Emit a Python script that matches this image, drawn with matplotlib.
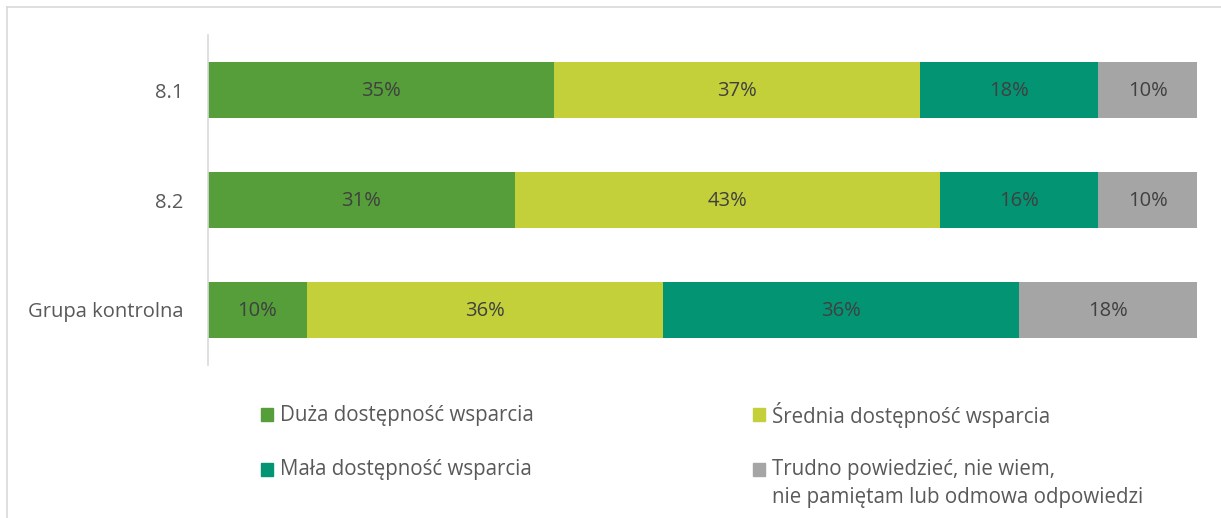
import matplotlib
matplotlib.use("Agg")
import matplotlib.pyplot as plt
from matplotlib.patches import Rectangle
from matplotlib.lines import Line2D

plt.rcParams['font.family'] = ['Open Sans', 'DejaVu Sans']

categories = ["8.1", "8.2", "Grupa kontrolna"]
series_names = ["Duża dostępność wsparcia", "Średnia dostępność wsparcia",
                "Mała dostępność wsparcia",
                "Trudno powiedzieć, nie wiem,\nnie pamiętam lub odmowa odpowiedzi"]
duza = [35, 31, 10]
srednia = [37, 43, 36]
mala = [18, 16, 36]
trudno = [10, 10, 18]
series_values = [duza, srednia, mala, trudno]
colors = ["#559E3A", "#C3D03A", "#039474", "#A5A5A5"]

W, H = 1221, 518
fig = plt.figure(figsize=(W / 100, H / 100), dpi=100)
ax = fig.add_axes([208 / W, (H - 365) / H, (1197 - 208) / W, 330 / H])

y = list(range(len(categories)))
left = [0] * len(categories)
for name, vals, c in zip(series_names, series_values, colors):
    ax.barh(y, vals, left=left, height=0.51, color=c, edgecolor='none')
    for yi, l, v in zip(y, left, vals):
        ax.text(l + v / 2, yi + 0.01, f"{v}%", ha='center', va='center',
                fontsize=14.5, color='#404040')
    left = [a + b for a, b in zip(left, vals)]

ax.set_xlim(0, 100)
ax.set_ylim(2.5, -0.5)
ax.set_yticks(y)
ax.set_yticklabels(categories, fontsize=14.5, color='#595959')
ax.tick_params(axis='y', length=0, pad=18)
ax.set_xticks([])
for s in ['top', 'right', 'bottom']:
    ax.spines[s].set_visible(False)
ax.spines['left'].set_color('#D9D9D9')
ax.spines['left'].set_linewidth(1.2)

# legend (manual placement)
leg_pos = [(261, 414), (753, 414), (261, 469), (753, 469)]
for (lx, ly), name, c in zip(leg_pos, series_names, colors):
    fig.patches.append(Rectangle((lx / W, (H - ly - 6.5) / H), 12 / W, 13 / H,
                                 transform=fig.transFigure, color=c, figure=fig))
    for k, line in enumerate(name.split("\n")):
        fig.text((lx + 19) / W, (H - ly - 27 * k - 1) / H, line, ha='left', va='center',
                 fontsize=14.8, color='#595959')

# outer frame
fig.add_artist(Line2D([6.5 / W, 6.5 / W], [0, (H - 6.5) / H], transform=fig.transFigure,
                      color='#D9D9D9', lw=1.2))
fig.add_artist(Line2D([6.5 / W, 1], [(H - 6.5) / H, (H - 6.5) / H], transform=fig.transFigure,
                      color='#D9D9D9', lw=1.2))

fig.savefig("out.png", dpi=100, facecolor='white')
